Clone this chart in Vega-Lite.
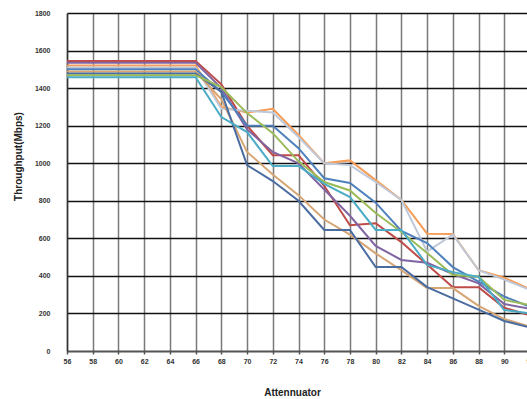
{
  "$schema": "https://vega.github.io/schema/vega-lite/v6.json",
  "autosize": {"type": "none"},
  "padding": {"left": 67, "top": 13, "right": 0, "bottom": 48},
  "width": 463,
  "height": 338,
  "background": "white",
  "config": {
    "view": {"stroke": null},
    "font": "Liberation Sans"
  },
  "data": {"values": [
    {"x":56,"s":"red","v":1545},{"x":58,"s":"red","v":1545},{"x":60,"s":"red","v":1545},{"x":62,"s":"red","v":1545},{"x":64,"s":"red","v":1545},{"x":66,"s":"red","v":1545},{"x":68,"s":"red","v":1420},{"x":70,"s":"red","v":1200},{"x":72,"s":"red","v":1043},{"x":74,"s":"red","v":1043},{"x":76,"s":"red","v":880},{"x":78,"s":"red","v":670},{"x":80,"s":"red","v":680},{"x":82,"s":"red","v":580},{"x":84,"s":"red","v":460},{"x":86,"s":"red","v":340},{"x":88,"s":"red","v":340},{"x":90,"s":"red","v":230},{"x":92,"s":"red","v":190},
    {"x":56,"s":"purple","v":1535},{"x":58,"s":"purple","v":1535},{"x":60,"s":"purple","v":1535},{"x":62,"s":"purple","v":1535},{"x":64,"s":"purple","v":1535},{"x":66,"s":"purple","v":1535},{"x":68,"s":"purple","v":1400},{"x":70,"s":"purple","v":1180},{"x":72,"s":"purple","v":1060},{"x":74,"s":"purple","v":1000},{"x":76,"s":"purple","v":860},{"x":78,"s":"purple","v":720},{"x":80,"s":"purple","v":560},{"x":82,"s":"purple","v":485},{"x":84,"s":"purple","v":470},{"x":86,"s":"purple","v":410},{"x":88,"s":"purple","v":360},{"x":90,"s":"purple","v":250},{"x":92,"s":"purple","v":225},
    {"x":56,"s":"orange","v":1520},{"x":58,"s":"orange","v":1520},{"x":60,"s":"orange","v":1520},{"x":62,"s":"orange","v":1520},{"x":64,"s":"orange","v":1520},{"x":66,"s":"orange","v":1520},{"x":68,"s":"orange","v":1300},{"x":70,"s":"orange","v":1270},{"x":72,"s":"orange","v":1290},{"x":74,"s":"orange","v":1150},{"x":76,"s":"orange","v":1000},{"x":78,"s":"orange","v":1015},{"x":80,"s":"orange","v":910},{"x":82,"s":"orange","v":805},{"x":84,"s":"orange","v":625},{"x":86,"s":"orange","v":623},{"x":88,"s":"orange","v":430},{"x":90,"s":"orange","v":390},{"x":92,"s":"orange","v":330},
    {"x":56,"s":"lightgray","v":1510},{"x":58,"s":"lightgray","v":1510},{"x":60,"s":"lightgray","v":1510},{"x":62,"s":"lightgray","v":1510},{"x":64,"s":"lightgray","v":1510},{"x":66,"s":"lightgray","v":1510},{"x":68,"s":"lightgray","v":1290},{"x":70,"s":"lightgray","v":1280},{"x":72,"s":"lightgray","v":1270},{"x":74,"s":"lightgray","v":1140},{"x":76,"s":"lightgray","v":1000},{"x":78,"s":"lightgray","v":990},{"x":80,"s":"lightgray","v":900},{"x":82,"s":"lightgray","v":805},{"x":84,"s":"lightgray","v":530},{"x":86,"s":"lightgray","v":620},{"x":88,"s":"lightgray","v":430},{"x":90,"s":"lightgray","v":380},{"x":92,"s":"lightgray","v":325},
    {"x":56,"s":"blue","v":1500},{"x":58,"s":"blue","v":1500},{"x":60,"s":"blue","v":1500},{"x":62,"s":"blue","v":1500},{"x":64,"s":"blue","v":1500},{"x":66,"s":"blue","v":1500},{"x":68,"s":"blue","v":1380},{"x":70,"s":"blue","v":1200},{"x":72,"s":"blue","v":1200},{"x":74,"s":"blue","v":1080},{"x":76,"s":"blue","v":920},{"x":78,"s":"blue","v":895},{"x":80,"s":"blue","v":790},{"x":82,"s":"blue","v":640},{"x":84,"s":"blue","v":575},{"x":86,"s":"blue","v":447},{"x":88,"s":"blue","v":370},{"x":90,"s":"blue","v":290},{"x":92,"s":"blue","v":235},
    {"x":56,"s":"tan","v":1488},{"x":58,"s":"tan","v":1488},{"x":60,"s":"tan","v":1488},{"x":62,"s":"tan","v":1488},{"x":64,"s":"tan","v":1488},{"x":66,"s":"tan","v":1488},{"x":68,"s":"tan","v":1340},{"x":70,"s":"tan","v":1060},{"x":72,"s":"tan","v":940},{"x":74,"s":"tan","v":830},{"x":76,"s":"tan","v":700},{"x":78,"s":"tan","v":620},{"x":80,"s":"tan","v":520},{"x":82,"s":"tan","v":430},{"x":84,"s":"tan","v":335},{"x":86,"s":"tan","v":335},{"x":88,"s":"tan","v":240},{"x":90,"s":"tan","v":170},{"x":92,"s":"tan","v":130},
    {"x":56,"s":"darkblue","v":1478},{"x":58,"s":"darkblue","v":1478},{"x":60,"s":"darkblue","v":1478},{"x":62,"s":"darkblue","v":1478},{"x":64,"s":"darkblue","v":1478},{"x":66,"s":"darkblue","v":1478},{"x":68,"s":"darkblue","v":1380},{"x":70,"s":"darkblue","v":990},{"x":72,"s":"darkblue","v":905},{"x":74,"s":"darkblue","v":800},{"x":76,"s":"darkblue","v":645},{"x":78,"s":"darkblue","v":645},{"x":80,"s":"darkblue","v":447},{"x":82,"s":"darkblue","v":447},{"x":84,"s":"darkblue","v":340},{"x":86,"s":"darkblue","v":280},{"x":88,"s":"darkblue","v":220},{"x":90,"s":"darkblue","v":160},{"x":92,"s":"darkblue","v":125},
    {"x":56,"s":"green","v":1468},{"x":58,"s":"green","v":1468},{"x":60,"s":"green","v":1468},{"x":62,"s":"green","v":1468},{"x":64,"s":"green","v":1468},{"x":66,"s":"green","v":1468},{"x":68,"s":"green","v":1405},{"x":70,"s":"green","v":1267},{"x":72,"s":"green","v":1160},{"x":74,"s":"green","v":1010},{"x":76,"s":"green","v":900},{"x":78,"s":"green","v":855},{"x":80,"s":"green","v":735},{"x":82,"s":"green","v":634},{"x":84,"s":"green","v":522},{"x":86,"s":"green","v":405},{"x":88,"s":"green","v":395},{"x":90,"s":"green","v":272},{"x":92,"s":"green","v":245},
    {"x":56,"s":"aqua","v":1458},{"x":58,"s":"aqua","v":1458},{"x":60,"s":"aqua","v":1458},{"x":62,"s":"aqua","v":1458},{"x":64,"s":"aqua","v":1458},{"x":66,"s":"aqua","v":1458},{"x":68,"s":"aqua","v":1246},{"x":70,"s":"aqua","v":1166},{"x":72,"s":"aqua","v":985},{"x":74,"s":"aqua","v":985},{"x":76,"s":"aqua","v":890},{"x":78,"s":"aqua","v":820},{"x":80,"s":"aqua","v":645},{"x":82,"s":"aqua","v":645},{"x":84,"s":"aqua","v":458},{"x":86,"s":"aqua","v":420},{"x":88,"s":"aqua","v":395},{"x":90,"s":"aqua","v":218},{"x":92,"s":"aqua","v":200}
  ]},
  "mark": {"type": "line", "strokeWidth": 2, "clip": false},
  "encoding": {
    "x": {
      "field": "x", "type": "quantitative",
      "scale": {"domain": [56, 92], "nice": false, "zero": false},
      "axis": {
        "values": [56,58,60,62,64,66,68,70,72,74,76,78,80,82,84,86,88,90,92],
        "format": "d",
        "title": "Attennuator",
        "titleFont": "Liberation Sans", "titleFontSize": 10, "titleFontWeight": "bold", "titleColor": "#222",
        "titleX": 225, "titleY": 41, "titleBaseline": "middle", "titleAnchor": null,
        "labelFont": "Liberation Sans", "labelFontSize": 7, "labelFontWeight": "bold", "labelColor": "#333",
        "labelPadding": 3, "labelFlush": false,
        "tickSize": 3, "tickColor": "#555", "tickWidth": 1.5,
        "domainColor": "#555", "domainWidth": 1.5,
        "grid": true, "gridColor": "#7a7a7a", "gridWidth": 1.5, "gridOpacity": 1
      }
    },
    "y": {
      "field": "v", "type": "quantitative",
      "scale": {"domain": [0, 1800], "nice": false},
      "axis": {
        "values": [0,200,400,600,800,1000,1200,1400,1600,1800],
        "format": "d",
        "title": "Throughput(Mbps)",
        "titleFont": "Liberation Sans", "titleFontSize": 10, "titleFontWeight": "bold", "titleColor": "#222",
        "titleX": -49, "titleY": 143, "titleBaseline": "middle", "titleAngle": -90, "titleAnchor": null,
        "labelFont": "Liberation Sans", "labelFontSize": 7, "labelFontWeight": "bold", "labelColor": "#333",
        "labelPadding": 17, "tickSize": 0,
        "domainColor": "#333", "domainWidth": 1.5,
        "grid": true, "gridColor": "#111", "gridWidth": 1.5, "gridOpacity": 1
      }
    },
    "color": {
      "field": "s", "type": "nominal", "legend": null,
      "scale": {
        "domain": ["red","purple","orange","lightgray","blue","tan","darkblue","green","aqua"],
        "range": ["#BE4B48","#8064A2","#F59D56","#BFC8D8","#4F81BD","#D6A574","#4A6CA0","#9BBB59","#4BACC6"]
      }
    },
    "order": {"field": "s", "sort": "descending"}
  }
}
